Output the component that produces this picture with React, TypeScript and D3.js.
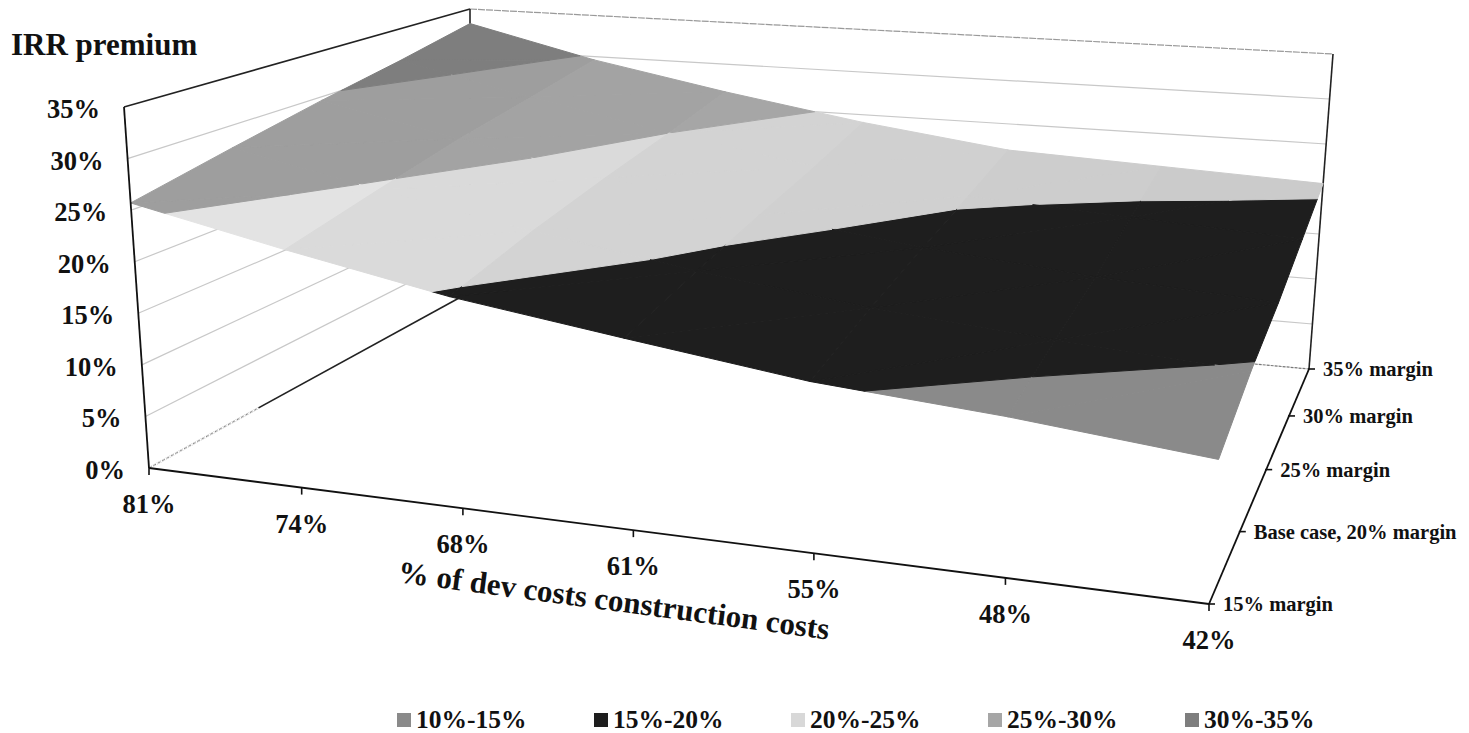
import React, { useMemo } from "react";
import * as d3 from "d3";

// Construction-cost share of development cost (x axis) and developer margin (depth axis)
const categories = ["81%", "74%", "68%", "61%", "55%", "48%", "42%"];
const seriesNames = ["15% margin", "Base case, 20% margin", "25% margin", "30% margin", "35% margin"];

// IRR premium in percent, one array per margin case
const margin15 = [25.7, 22.6, 19.7, 17.5, 15.35, 14.1, 12.4];
const margin20 = [27.7, 24.6, 21.8, 19.3, 17.3, 15.9, 14.8];
const margin25 = [29.6, 26.5, 23.5, 20.9, 18.9, 17.4, 16.4];
const margin30 = [31.3, 28.0, 25.0, 22.4, 20.4, 19.4, 18.5];
const margin35 = [33.2, 29.6, 26.7, 24.1, 22.0, 21.3, 20.6];
const surfaceValues = [margin15, margin20, margin25, margin30, margin35];

const bandLabels = ["10%-15%", "15%-20%", "20%-25%", "25%-30%", "30%-35%"];
const bandLower = [10, 15, 20, 25, 30];
const bandUpper = [15, 20, 25, 30, 35];
const valueTicks = [0, 5, 10, 15, 20, 25, 30, 35];

// Facet shading: each band gets one grey per category column
const bandShades = [
  ["#8a8a8a", "#8a8a8a", "#8a8a8a", "#8a8a8a", "#8a8a8a", "#8a8a8a"],
  ["#1e1e1e", "#1e1e1e", "#1e1e1e", "#1e1e1e", "#1e1e1e", "#1e1e1e"],
  ["#e3e3e3", "#dadada", "#d3d3d3", "#d0d0d0", "#cdcdcd", "#cbcbcb"],
  ["#9e9e9e", "#a3a3a3", "#a6a6a6", "#a6a6a6", "#a6a6a6", "#a6a6a6"],
  ["#7e7e7e", "#7e7e7e", "#7e7e7e", "#7e7e7e", "#7e7e7e", "#7e7e7e"],
];
const legendShades = ["#8a8a8a", "#1e1e1e", "#d8d8d8", "#a6a6a6", "#7e7e7e"];

type Pt = [number, number];
type Corners = [Pt, Pt, Pt, Pt];

// Corners of the plot cuboid in screen space: front-left, front-right, back-right, back-left
const floorCorners: Corners = [[149, 468], [1209, 604], [1309, 369], [470, 292]];
const ceilingCorners: Corners = [[124, 107], [1236, 196], [1333, 54], [470, 9]];

// Unit square to quadrilateral homography
function squareToQuad([p0, p1, p2, p3]: Corners) {
  const dx1 = p1[0] - p2[0], dx2 = p3[0] - p2[0], sx = p0[0] - p1[0] + p2[0] - p3[0];
  const dy1 = p1[1] - p2[1], dy2 = p3[1] - p2[1], sy = p0[1] - p1[1] + p2[1] - p3[1];
  const det = dx1 * dy2 - dx2 * dy1;
  const g = (sx * dy2 - dx2 * sy) / det;
  const h = (dx1 * sy - sx * dy1) / det;
  const a = p1[0] - p0[0] + g * p1[0], b = p3[0] - p0[0] + h * p3[0], c = p0[0];
  const d = p1[1] - p0[1] + g * p1[1], e = p3[1] - p0[1] + h * p3[1], f = p0[1];
  return (u: number, v: number): Pt => {
    const w = g * u + h * v + 1;
    return [(a * u + b * v + c) / w, (d * u + e * v + f) / w];
  };
}

const floorMap = squareToQuad(floorCorners);
const ceilingMap = squareToQuad(ceilingCorners);

const uScale = d3.scaleLinear().domain([0, categories.length - 1]).range([0, 1]);
const vScale = d3.scaleLinear().domain([0, seriesNames.length - 1]).range([0, 1]);
const wScale = d3.scaleLinear().domain([0, 35]).range([0, 1]);

// Project a grid position (category index, series index, value) to the screen
function project(i: number, j: number, value: number): Pt {
  const u = uScale(i), v = vScale(j), w = wScale(value);
  const a = floorMap(u, v), b = ceilingMap(u, v);
  return [a[0] + (b[0] - a[0]) * w, a[1] + (b[1] - a[1]) * w];
}

type V = { i: number; j: number; z: number };

function lerpV(a: V, b: V, z: number): V {
  const t = (z - a.z) / (b.z - a.z);
  return { i: a.i + (b.i - a.i) * t, j: a.j + (b.j - a.j) * t, z };
}

// One Sutherland-Hodgman pass against a horizontal value plane
function clipPlane(poly: V[], z: number, keepAbove: boolean): V[] {
  const out: V[] = [];
  const inside = (p: V) => (keepAbove ? p.z >= z : p.z <= z);
  poly.forEach((p, k) => {
    const q = poly[(k + 1) % poly.length];
    if (inside(p)) out.push(p);
    if (inside(p) !== inside(q)) out.push(lerpV(p, q, z));
  });
  return out;
}

const line = d3.line<Pt>().x((d) => d[0]).y((d) => d[1]);
const edge = (a: Pt, b: Pt) => line([a, b]) as string;

type Facet = { path: string; fill: string };

function buildFacets(): Facet[] {
  const facets: Facet[] = [];
  for (let j = seriesNames.length - 2; j >= 0; j--) {
    for (let i = 0; i < categories.length - 1; i++) {
      const a: V = { i, j, z: surfaceValues[j][i] };
      const b: V = { i: i + 1, j, z: surfaceValues[j][i + 1] };
      const c: V = { i: i + 1, j: j + 1, z: surfaceValues[j + 1][i + 1] };
      const d: V = { i, j: j + 1, z: surfaceValues[j + 1][i] };
      for (const tri of [[a, b, c], [a, c, d]]) {
        bandLower.forEach((lo, band) => {
          let poly = clipPlane(tri, lo, true);
          if (poly.length) poly = clipPlane(poly, bandUpper[band], false);
          if (poly.length < 3) return;
          const pts = poly.map((p) => project(p.i, p.j, p.z));
          facets.push({ path: (line(pts) as string) + "Z", fill: bandShades[band][i] });
        });
      }
    }
  }
  return facets;
}

const SERIF = "'Liberation Serif', 'Times New Roman', serif";

export default function App() {
  const facets = useMemo(buildFacets, []);
  const nCat = categories.length - 1;
  const nSer = seriesNames.length - 1;
  const floorFrontLeft = project(0, 0, 0);
  const floorBackLeft = project(0, nSer, 0);
  const floorBackRight = project(nCat, nSer, 0);
  const floorFrontRight = project(nCat, 0, 0);
  const topFrontLeft = project(0, 0, 35);
  const topBackLeft = project(0, nSer, 35);
  const topBackRight = project(nCat, nSer, 35);

  return (
    <svg
      width={1469}
      height={733}
      style={{ position: "absolute", left: 0, top: 0, display: "block", background: "#fff" }}
      fontFamily={SERIF}
      fontWeight="bold"
      fill="#111"
    >
      {/* Wall gridlines */}
      {valueTicks.slice(1, -1).map((t) => (
        <g key={t} stroke="#c8c8c8" strokeWidth={1.2} fill="none">
          <path d={edge(project(0, 0, t), project(0, nSer, t))} />
          <path d={edge(project(0, nSer, t), project(nCat, nSer, t))} />
        </g>
      ))}

      {/* Wall frame */}
      <path d={edge(topFrontLeft, topBackLeft)} stroke="#222" strokeWidth={1.6} fill="none" />
      <path d={edge(topBackLeft, topBackRight)} stroke="#999" strokeWidth={1.2} strokeDasharray="7 1" fill="none" />
      <path d={edge(topBackLeft, floorBackLeft)} stroke="#222" strokeWidth={1.6} fill="none" />
      <path d={edge(topBackRight, floorBackRight)} stroke="#222" strokeWidth={1.6} fill="none" />
      <path d={edge(floorFrontLeft, floorBackLeft)} stroke="#222" strokeWidth={1.6} fill="none" />
      <path d={edge(floorFrontLeft, project(0, 1.15, 0))} stroke="#fff" strokeWidth={2} fill="none" />
      <path d={edge(floorFrontLeft, project(0, 1.15, 0))} stroke="#888" strokeWidth={1} strokeDasharray="3 2" fill="none" />
      <path d={edge(floorBackLeft, floorBackRight)} stroke="#777" strokeWidth={1.2} strokeDasharray="3 1" fill="none" />

      {/* Surface bands */}
      <g>
        {facets.map((f, k) => (
          <path key={k} d={f.path} fill={f.fill} stroke={f.fill} strokeWidth={1} strokeLinejoin="round" />
        ))}
      </g>

      {/* Front axes */}
      <path d={edge(topFrontLeft, floorFrontLeft)} stroke="#111" strokeWidth={1.8} fill="none" />
      <path d={edge(floorFrontLeft, floorFrontRight)} stroke="#111" strokeWidth={1.8} fill="none" />
      <path d={edge(floorFrontRight, floorBackRight)} stroke="#111" strokeWidth={1.8} fill="none" />

      {categories.map((label, i) => {
        const [x, y] = project(i, 0, 0);
        return (
          <g key={label}>
            <path d={edge([x, y], [x, y + 7])} stroke="#111" strokeWidth={1.6} fill="none" />
            <text x={x} y={y + 45} textAnchor="middle" fontSize={26.5}>{label}</text>
          </g>
        );
      })}

      {seriesNames.map((label, j) => {
        const [x, y] = project(nCat, j, 0);
        return (
          <g key={label}>
            <path d={edge([x - 1, y], [x + 6, y])} stroke="#111" strokeWidth={1.6} fill="none" />
            <text x={x + 14} y={y + 7} fontSize={20.5}>{label}</text>
          </g>
        );
      })}

      {valueTicks.map((t) => {
        const [x, y] = project(0, 0, t);
        return (
          <text key={t} x={x - 24} y={y + 11} textAnchor="end" fontSize={26.5}>
            {t}%
          </text>
        );
      })}

      <text x={11} y={55} fontSize={31}>IRR premium</text>

      <text transform="translate(397,582) rotate(7.6)" fontSize={31}>
        % of dev costs construction costs
      </text>

      {/* Legend */}
      {bandLabels.map((label, k) => {
        const x = d3.scaleLinear().domain([0, 1]).range([397, 594])(k);
        return (
          <g key={label}>
            <rect x={x} y={713} width={14} height={14} fill={legendShades[k]} />
            <text x={x + 19} y={728} fontSize={25.5}>{label}</text>
          </g>
        );
      })}
    </svg>
  );
}
